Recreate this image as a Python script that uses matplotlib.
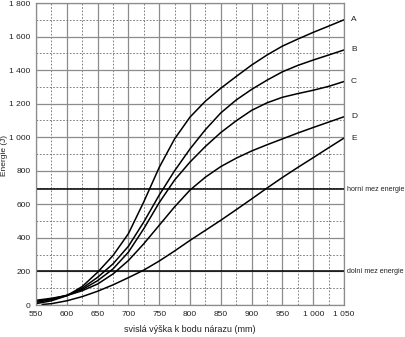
import matplotlib
matplotlib.use("Agg")
import matplotlib.pyplot as plt
from matplotlib.ticker import MultipleLocator, FuncFormatter

plt.rcParams['font.family'] = ['Liberation Sans', 'DejaVu Sans']

x = [550, 575, 600, 625, 650, 675, 700, 725, 750, 775, 800, 825, 850, 875, 900, 925, 950, 975, 1000, 1025, 1050]
curve_a = [8, 25, 55, 110, 195, 295, 425, 615, 820, 990, 1120, 1215, 1292, 1362, 1430, 1490, 1543, 1585, 1625, 1662, 1700]
curve_b = [15, 32, 57, 100, 165, 245, 350, 495, 655, 800, 930, 1045, 1145, 1222, 1285, 1340, 1390, 1428, 1460, 1490, 1520]
curve_c = [22, 36, 58, 92, 145, 215, 315, 455, 610, 745, 852, 945, 1028, 1098, 1160, 1205, 1238, 1260, 1280, 1303, 1332]
curve_d = [28, 40, 56, 85, 125, 185, 265, 365, 475, 585, 685, 762, 825, 875, 918, 955, 990, 1025, 1058, 1090, 1122]
x_e = [560, 575, 600, 625, 650, 675, 700, 725, 750, 775, 800, 825, 850, 875, 900, 925, 950, 975, 1000, 1025, 1050]
curve_e = [3, 8, 25, 50, 82, 120, 163, 208, 262, 322, 385, 445, 505, 568, 632, 697, 760, 820, 878, 937, 995]
curve_names = ["A", "B", "C", "D", "E"]

upper_limit = 690
lower_limit = 200
upper_label = "horní mez energie"
lower_label = "dolní mez energie"
xlabel = "svislá výška k bodu nárazu (mm)"
ylabel = "Energie (J)"

W, H = 405, 337
fig = plt.figure(figsize=(W/100, H/100), dpi=100)
ax = fig.add_axes([36/W, 1 - 305/H, (344 - 36)/W, (305 - 3)/H])

ax.set_xlim(550, 1050)
ax.set_ylim(0, 1800)
ax.xaxis.set_major_locator(MultipleLocator(50))
ax.xaxis.set_minor_locator(MultipleLocator(25))
ax.yaxis.set_major_locator(MultipleLocator(200))
ax.yaxis.set_minor_locator(MultipleLocator(100))

fmt = FuncFormatter(lambda v, p: f"{int(v):,}".replace(",", " "))
ax.xaxis.set_major_formatter(fmt)
ax.yaxis.set_major_formatter(fmt)

ax.grid(which='major', color='#8c8c8c', linewidth=0.9, linestyle='-')
ax.grid(which='minor', color='#6a6a6a', linewidth=0.6, linestyle=(0, (2, 2)))
ax.set_axisbelow(True)
ax.tick_params(which='both', length=0, labelsize=6.0, colors='#222222')
ax.tick_params(axis='x', pad=4)
ax.tick_params(axis='y', pad=4)
for s in ax.spines.values():
    s.set_color('#8c8c8c')
    s.set_linewidth(0.9)

series = [(x, curve_a), (x, curve_b), (x, curve_c), (x, curve_d), (x_e, curve_e)]
for name, (xs, ys) in zip(curve_names, series):
    ax.plot(xs, ys, color='black', linewidth=1.1, solid_capstyle='round', solid_joinstyle='round')
    ax.annotate(name, xy=(xs[-1], ys[-1]), xytext=(5, 0), textcoords='offset points',
                fontsize=6.0, va='center', ha='left', color='#222222', annotation_clip=False)

ax.axhline(upper_limit, color='black', linewidth=1.1)
ax.axhline(lower_limit, color='black', linewidth=1.1)
ax.annotate(upper_label, xy=(1050, upper_limit), xytext=(2.5, 0), textcoords='offset points',
            fontsize=5.1, va='center', ha='left', color='#222222', annotation_clip=False)
ax.annotate(lower_label, xy=(1050, lower_limit), xytext=(2.5, 0), textcoords='offset points',
            fontsize=5.1, va='center', ha='left', color='#222222', annotation_clip=False)

fig.text(190/W, 1 - 330/H, xlabel, fontsize=6.5, color='#222222', ha='center', va='center')
fig.text(5/W, 1 - 155/H, ylabel, fontsize=6.0, color='#222222', ha='center', va='center', rotation=90)

fig.savefig("out.png", dpi=100)
